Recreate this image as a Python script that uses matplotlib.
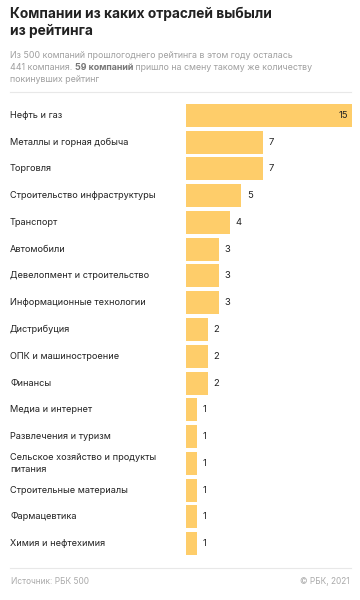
import matplotlib
matplotlib.use("Agg")
import matplotlib.pyplot as plt

plt.rcParams["font.family"] = ["Inter", "DejaVu Sans"]

# data
categories = [
    "Нефть и газ",
    "Металлы и горная добыча",
    "Торговля",
    "Строительство инфраструктуры",
    "Транспорт",
    "Автомобили",
    "Девелопмент и строительство",
    "Информационные технологии",
    "Дистрибуция",
    "ОПК и машиностроение",
    "Финансы",
    "Медиа и интернет",
    "Развлечения и туризм",
    "Сельское хозяйство и продукты\nпитания",
    "Строительные материалы",
    "Фармацевтика",
    "Химия и нефтехимия",
]
counts = [15, 7, 7, 5, 4, 3, 3, 3, 2, 2, 2, 1, 1, 1, 1, 1, 1]

W, H = 360, 600
fig = plt.figure(figsize=(W / 100, H / 100), dpi=100)
fig.patch.set_facecolor("white")

def fx(px):
    return px / W

def fy(py):
    return 1 - py / H

# bar axes
left, right, top, bottom = 186, 352, 102, 557
ax = fig.add_axes([fx(left), fy(bottom), (right - left) / W, (bottom - top) / H])
ypos = list(range(len(categories)))
ax.barh(ypos, counts, height=0.86, color="#fecd6a", edgecolor="none")
ax.set_xlim(0, 15)
ax.set_ylim(len(categories) - 0.5, -0.5)
ax.axis("off")

for y, (cat, v) in enumerate(zip(categories, counts)):
    ax.text(-176 / 11.07, y, cat, ha="left", va="center", fontsize=6.6,
            color="#222222", linespacing=1.4)
    if v == max(counts):
        ax.text(v - 0.35, y, str(v), ha="right", va="center", fontsize=6.8, color="#222222")
    else:
        ax.text(v + 0.5, y, str(v), ha="left", va="center", fontsize=6.8, color="#222222")

# title
fig.text(fx(10), fy(7), "Компании из каких отраслей выбыли\nиз рейтинга", ha="left", va="top",
         fontsize=9.9, fontweight="bold", color="#222222", linespacing=1.2)

# subtitle with bold fragment
grey = "#a0a0a0"
fs = 6.4
fig.text(fx(10), fy(55), "Из 500 компаний прошлогоднего рейтинга в этом году осталась",
         ha="left", va="center", fontsize=fs, color=grey)
renderer = fig.canvas.get_renderer()
t1 = fig.text(fx(10), fy(67), "441 компания. ", ha="left", va="center", fontsize=fs, color=grey)
x = t1.get_window_extent(renderer).x1
t2 = fig.text(x / W, fy(67), "59 компаний", ha="left", va="center", fontsize=fs,
              color="#777777", fontweight="bold")
x = t2.get_window_extent(renderer).x1
fig.text(x / W, fy(67), " пришло на смену такому же количеству", ha="left", va="center",
         fontsize=fs, color=grey)
fig.text(fx(10), fy(79), "покинувших рейтинг", ha="left", va="center", fontsize=fs, color=grey)

# separators
for py in (92, 568):
    fig.add_artist(plt.Line2D([fx(10), fx(351)], [fy(py), fy(py)], color="#e8e8e8", lw=0.8))

# footer
fig.text(fx(11), fy(582), "Источник: РБК 500", ha="left", va="center", fontsize=6, color="#aaaaaa")
fig.text(fx(350), fy(582), "© РБК, 2021", ha="right", va="center", fontsize=6, color="#aaaaaa")

fig.savefig("out.png", dpi=100, facecolor="white")
